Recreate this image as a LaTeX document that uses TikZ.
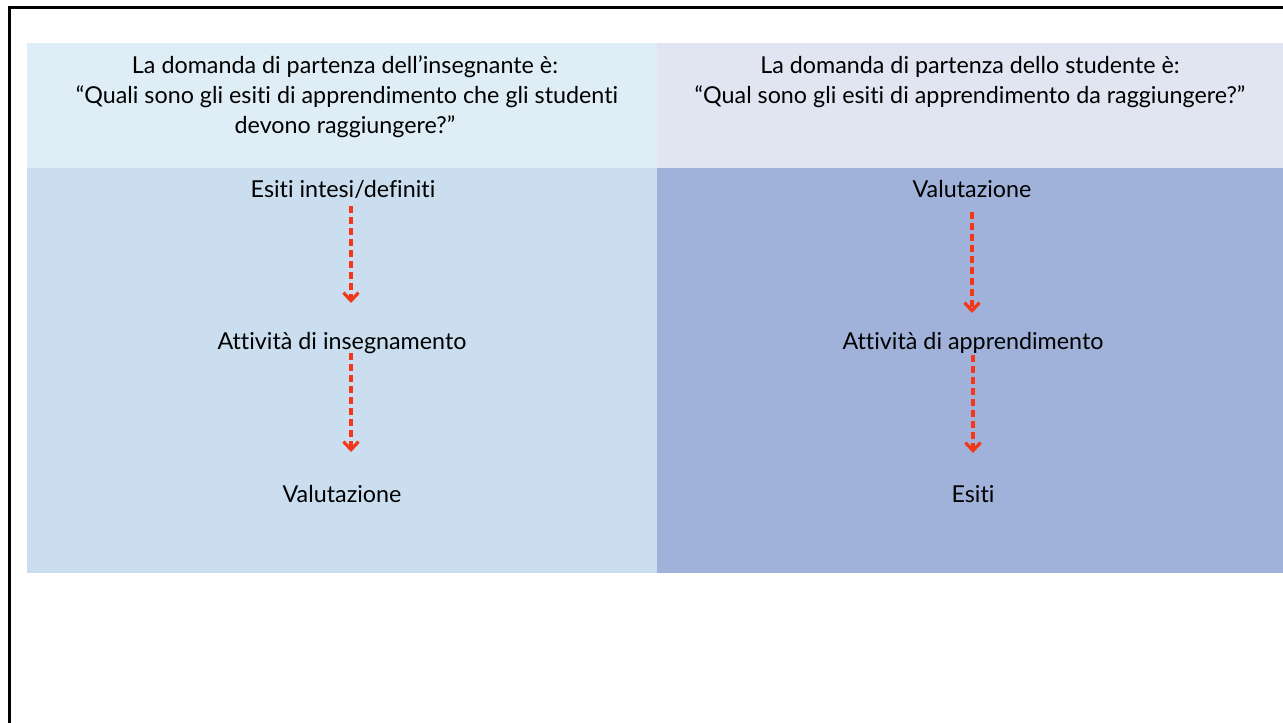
\documentclass[tikz,border=0pt]{standalone}
\usepackage{fontspec}
\setmainfont[Ligatures=NoCommon]{Lato}
\usetikzlibrary{arrows.meta}
\definecolor{hdrL}{RGB}{223,238,246}
\definecolor{hdrR}{RGB}{225,228,241}
\definecolor{bodyL}{RGB}{203,222,239}
\definecolor{bodyR}{RGB}{160,178,217}
\definecolor{arrowred}{RGB}{245,55,25}
\tikzset{
  txt/.style={anchor=base, font=\fontsize{23.3}{30}\selectfont, text=black, inner sep=0pt},
  flow/.style={draw=arrowred, line width=3.2pt, dash pattern=on 7pt off 4pt, -{Straight Barb[length=8pt,width=15pt,line width=3.2pt]}},
  frame/.style={draw=black, line width=3pt}
}
\begin{document}
\begin{tikzpicture}[x=1pt,y=-1pt]
\useasboundingbox (0,0) rectangle (1283,723);
% panels
\fill[hdrL] (27,43) rectangle (657,168);
\fill[hdrR] (657,43) rectangle (1283,168);
\fill[bodyL] (27,168) rectangle (657,573);
\fill[bodyR] (657,168) rectangle (1283,573);
% frame
\draw[frame] (9,730) -- (9,7) -- (1290,7);
% headers
\node[txt] (hL1) at (345,73) {La domanda di partenza dell’insegnante è:};
\node[txt] (hL2) at (347,103) {“Quali sono gli esiti di apprendimento che gli studenti};
\node[txt] (hL3) at (345,133) {devono raggiungere?”};
\node[txt] (hR1) at (970,73) {La domanda di partenza dello studente è:};
\node[txt] (hR2) at (970,103) {“Qual sono gli esiti di apprendimento da raggiungere?”};
% left column
\node[txt] (l1) at (343,197) {Esiti intesi/definiti};
\node[txt] (l2) at (342,349) {Attività di insegnamento};
\node[txt] (l3) at (342,502) {Valutazione};
% right column
\node[txt] (r1) at (972,197) {Valutazione};
\node[txt] (r2) at (973,349) {Attività di apprendimento};
\node[txt] (r3) at (973,502) {Esiti};
% arrow ends
\coordinate (a1s) at (351,206);
\coordinate (a1e) at (351,303);
\coordinate (a2s) at (351,353);
\coordinate (a2e) at (351,452);
\coordinate (b1s) at (972,212);
\coordinate (b1e) at (972,313);
\coordinate (b2s) at (973,355);
\coordinate (b2e) at (973,453);
\draw[flow] (a1s) -- (a1e);
\draw[flow] (a2s) -- (a2e);
\draw[flow] (b1s) -- (b1e);
\draw[flow] (b2s) -- (b2e);
\end{tikzpicture}
\end{document}
